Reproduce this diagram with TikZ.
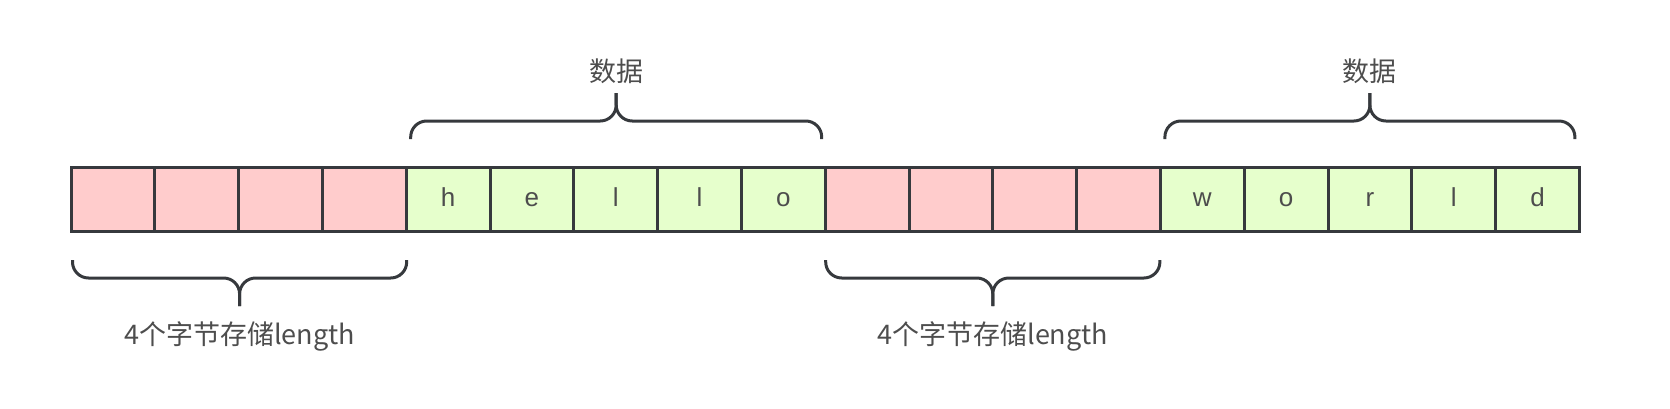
\documentclass[tikz,border=0pt]{standalone}
\usepackage{fontspec}
\setmainfont{Liberation Sans}
\newfontfamily\cjk{Noto Sans CJK SC}
\usepackage{xcolor}
\definecolor{LenRed}{HTML}{FFCCCC}
\definecolor{DataGreen}{HTML}{E6FFCC}
\definecolor{CellLine}{HTML}{36393D}
\definecolor{LabelGray}{HTML}{4D4D4D}
\usetikzlibrary{calc}
\newcommand\curlyBrace[3]{
	% #1 start, #2 end, #3 = 1 opens up, -1 opens down
	\coordinate (braceMid) at ($(#1)!0.5!(#2)+(0,#3*18)$);
	\coordinate (braceTip) at ($(braceMid)+(0,#3*28)$);
	\draw[curly] (#1) |- (braceMid) -- (braceTip);
	\draw[curly] (#2) |- (braceMid) -- (braceTip);
}

\begin{document}
\begin{tikzpicture}[x=0.5pt,y=0.5pt,
	cell/.style={draw=CellLine,line width=1.5pt,minimum width=41.9pt,minimum height=32pt,inner sep=0pt,text=LabelGray,font=\fontsize{13}{15}\selectfont,text height=0.9em,text depth=0.14em},
	lencell/.style={cell,fill=LenRed},
	datacell/.style={cell,fill=DataGreen},
	curly/.style={draw=CellLine,line width=1.5pt,rounded corners=8pt},
	bracelabel/.style={text=LabelGray,font=\cjk\fontsize{13.5}{16}\selectfont,inner sep=0pt}]
	
	\useasboundingbox (0,0) rectangle (1670,408);
	
	\def\CellW{83.8}
	\def\RowLeft{71}
	\def\RowMid{209}
	
	%% LENGTH BYTES
	\foreach \i in {0,1,2,3,9,10,11,12}{
		\node[lencell] (c\i) at ({\RowLeft+(\i+0.5)*\CellW},\RowMid) {};
	}
	
	%% DATA BYTES
	\foreach \i/\ch in {4/h,5/e,6/l,7/l,8/o,13/w,14/o,15/r,16/l,17/d}{
		\node[datacell] (c\i) at ({\RowLeft+(\i+0.5)*\CellW},\RowMid) {\ch};
	}
	
	%% BRACES BELOW
	\coordinate (lenA1) at ($(c0.south west)+(3,-27.5)$);
	\coordinate (lenA2) at ($(c3.south east)+(-1,-27.5)$);
	\curlyBrace{lenA1}{lenA2}{-1}
	\node[bracelabel] (lenLabelA) at ($(braceTip)+(0,-30)$) {4个字节存储length};
	
	\coordinate (lenB1) at ($(c9.south west)+(2,-27.5)$);
	\coordinate (lenB2) at ($(c12.south east)+(-2,-27.5)$);
	\curlyBrace{lenB1}{lenB2}{-1}
	\node[bracelabel] (lenLabelB) at ($(braceTip)+(0,-30)$) {4个字节存储length};
	
	%% BRACES ABOVE
	\coordinate (dataA1) at ($(c4.north west)+(6,26.5)$);
	\coordinate (dataA2) at ($(c8.north east)+(-5,26.5)$);
	\curlyBrace{dataA1}{dataA2}{1}
	\node[bracelabel] (dataLabelA) at ($(braceTip)+(0,22)$) {数据};
	
	\coordinate (dataB1) at ($(c13.north west)+(6,26.5)$);
	\coordinate (dataB2) at ($(c17.north east)+(-6,26.5)$);
	\curlyBrace{dataB1}{dataB2}{1}
	\node[bracelabel] (dataLabelB) at ($(braceTip)+(0,22)$) {数据};
	
\end{tikzpicture}
\end{document}
